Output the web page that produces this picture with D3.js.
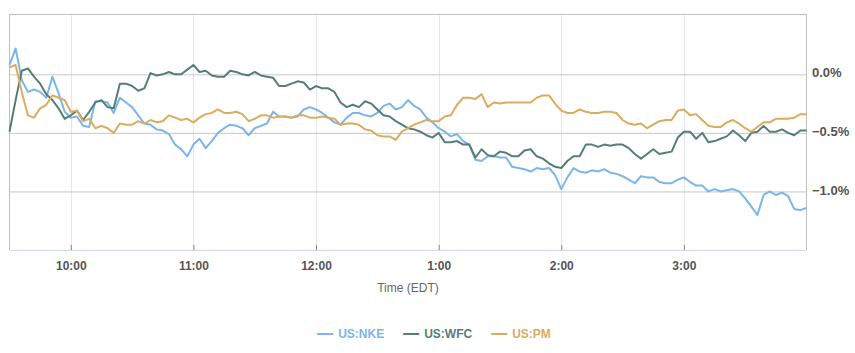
<!DOCTYPE html>
<html>
<head>
<meta charset="utf-8">
<script src="https://cdn.jsdelivr.net/npm/d3@7"></script>
<style>
  body { margin: 0; background: #fff; }
  svg { display: block; font-family: "Liberation Sans", Arial, sans-serif; }
</style>
</head>
<body>
<svg width="855" height="353"></svg>
<script>
// % change vs previous close, one reading every 3 minutes from 9:30 to 16:00
var nke = [
  0.08, 0.22, -0.05, -0.15, -0.13, -0.15, -0.2, -0.02, -0.16, -0.32,
  -0.37, -0.36, -0.44, -0.45, -0.23, -0.23, -0.24, -0.33, -0.2, -0.24,
  -0.28, -0.35, -0.42, -0.43, -0.47, -0.48, -0.51, -0.6, -0.64, -0.7,
  -0.6, -0.55, -0.63, -0.57, -0.5, -0.46, -0.43, -0.44, -0.46, -0.52,
  -0.46, -0.44, -0.42, -0.32, -0.36, -0.36, -0.37, -0.36, -0.3, -0.28,
  -0.3, -0.33, -0.37, -0.41, -0.43, -0.37, -0.33, -0.33, -0.35, -0.36,
  -0.33, -0.27, -0.25, -0.3, -0.28, -0.22, -0.27, -0.3, -0.37, -0.41,
  -0.46, -0.49, -0.53, -0.51, -0.57, -0.6, -0.73, -0.74, -0.7, -0.7,
  -0.71, -0.71, -0.79, -0.8, -0.81, -0.83, -0.8, -0.81, -0.8, -0.86,
  -0.98, -0.88, -0.8, -0.83, -0.84, -0.82, -0.83, -0.81, -0.84, -0.85,
  -0.87, -0.9, -0.93, -0.87, -0.88, -0.88, -0.92, -0.93, -0.93, -0.9,
  -0.88, -0.92, -0.95, -0.95, -1.0, -0.98, -1.0, -0.99, -0.98, -1.0,
  -1.06, -1.13, -1.2, -1.03, -1.0, -1.03, -1.01, -1.04, -1.15, -1.16,
  -1.14
];
var wfc = [
  -0.49, -0.22, 0.03, 0.05, -0.02, -0.08, -0.17, -0.22, -0.29, -0.38,
  -0.35, -0.31, -0.39, -0.32, -0.24, -0.22, -0.28, -0.29, -0.08, -0.08,
  -0.1, -0.14, -0.12, 0.01, -0.01, 0.0, 0.02, 0.0, 0.0, 0.04,
  0.08, 0.02, 0.03, -0.01, -0.02, -0.02, 0.03, 0.02, 0.0, -0.01,
  0.02, -0.01, -0.02, -0.03, -0.1, -0.1, -0.08, -0.06, -0.07, -0.13,
  -0.1, -0.12, -0.12, -0.15, -0.24, -0.28, -0.26, -0.28, -0.23, -0.25,
  -0.3, -0.35, -0.36, -0.4, -0.43, -0.46, -0.47, -0.49, -0.52, -0.54,
  -0.5, -0.58, -0.58, -0.57, -0.6, -0.6, -0.71, -0.64, -0.69, -0.7,
  -0.66, -0.67, -0.7, -0.7, -0.65, -0.64, -0.7, -0.72, -0.76, -0.79,
  -0.8, -0.74, -0.7, -0.7, -0.6, -0.6, -0.62, -0.6, -0.61, -0.6,
  -0.6, -0.63, -0.68, -0.72, -0.68, -0.64, -0.68, -0.67, -0.66, -0.54,
  -0.49, -0.49, -0.55, -0.5, -0.58, -0.57, -0.55, -0.53, -0.48, -0.52,
  -0.57, -0.5, -0.49, -0.44, -0.49, -0.49, -0.47, -0.5, -0.52, -0.48,
  -0.48
];
var pm = [
  0.06, 0.08, -0.15, -0.35, -0.37, -0.29, -0.26, -0.18, -0.2, -0.22,
  -0.32, -0.31, -0.4, -0.38, -0.46, -0.44, -0.46, -0.5, -0.42, -0.43,
  -0.43, -0.4, -0.42, -0.39, -0.41, -0.4, -0.35, -0.37, -0.39, -0.38,
  -0.41, -0.37, -0.34, -0.33, -0.3, -0.33, -0.33, -0.32, -0.34, -0.4,
  -0.38, -0.35, -0.35, -0.37, -0.36, -0.36, -0.37, -0.35, -0.35, -0.37,
  -0.37, -0.36, -0.37, -0.38, -0.43, -0.42, -0.42, -0.43, -0.47, -0.48,
  -0.52, -0.53, -0.53, -0.56, -0.49, -0.46, -0.43, -0.41, -0.39, -0.4,
  -0.4, -0.36, -0.35, -0.26, -0.2, -0.2, -0.21, -0.17, -0.28, -0.24,
  -0.25, -0.24, -0.24, -0.24, -0.24, -0.24, -0.2, -0.18, -0.18, -0.25,
  -0.31, -0.33, -0.33, -0.3, -0.32, -0.33, -0.33, -0.32, -0.32, -0.33,
  -0.39, -0.42, -0.43, -0.42, -0.46, -0.43, -0.4, -0.39, -0.39, -0.31,
  -0.3, -0.35, -0.34, -0.39, -0.44, -0.45, -0.45, -0.41, -0.39, -0.42,
  -0.46, -0.49, -0.45, -0.41, -0.41, -0.38, -0.38, -0.38, -0.37, -0.34,
  -0.34
];

var seriesNames = ["US:NKE", "US:WFC", "US:PM"];
var yTicks = [0, -0.5, -1];
var xLabel = "Time (EDT)";

var tOpen = new Date(2017, 5, 1, 9, 30),
  tClose = new Date(2017, 5, 1, 16, 0);
var times = d3.timeMinute.every(3).range(tOpen, d3.timeMinute.offset(tClose, 1));

var svg = d3.select("svg"),
  plotL = 9.5, plotR = 806.5, plotT = 14, plotB = 250;

var x = d3.scaleTime().domain([tOpen, tClose]).range([plotL, plotR]),
  y = d3.scaleLinear().domain([-1.5, 0.515]).range([plotB, plotT]),
  color = d3.scaleOrdinal().domain(seriesNames).range(["#7cb5ec", "#557e78", "#dcab5f"]);

var hours = d3.timeHour.range(new Date(2017, 5, 1, 10), tClose);

// vertical grid
svg.append("g")
  .selectAll("line")
  .data(hours)
  .enter().append("line")
  .attr("x1", d => Math.round(x(d)) + 0.5)
  .attr("x2", d => Math.round(x(d)) + 0.5)
  .attr("y1", plotT)
  .attr("y2", plotB)
  .style("stroke", "#e6e6e6");

// horizontal grid + right labels
var yg = svg.append("g")
  .attr("transform", `translate(${plotR},0)`)
  .call(d3.axisRight(y).tickValues(yTicks).tickSize(-(plotR - plotL)));
yg.select(".domain").remove();
yg.selectAll(".tick line").style("stroke", "#c6c6c6");
yg.selectAll(".tick text")
  .text(d => d3.format(".1f")(d) + "%")
  .attr("x", 5.5)
  .attr("dy", "0.2em")
  .style("font-size", "13px")
  .style("font-weight", "bold")
  .style("fill", "#555")
  .style("font-family", "'Liberation Sans', Arial, sans-serif");

// frame
svg.append("path")
  .attr("d", `M${plotL},${plotB}V${plotT + 0.5}H${plotR}V${plotB}`)
  .style("fill", "none")
  .style("stroke", "#c0c0c0");

var line = d3.line()
  .x((d, i) => x(times[i]))
  .y(d => y(d));

var data = [nke, wfc, pm];
svg.append("g")
  .selectAll("path")
  .data(data)
  .enter().append("path")
  .attr("d", line)
  .style("fill", "none")
  .style("stroke", (d, i) => color(seriesNames[i]))
  .style("stroke-width", 2)
  .style("stroke-linejoin", "round");

// x axis
var xg = svg.append("g")
  .attr("transform", `translate(0,${plotB})`)
  .call(d3.axisBottom(x).tickValues(hours).tickSize(-5).tickPadding(11).tickFormat(d3.timeFormat("%-I:%M")));
xg.select(".domain").attr("d", `M${plotL},0.5H${plotR}`).style("stroke", "#ccd6eb");
xg.selectAll(".tick line").style("stroke", "#888");
xg.selectAll(".tick text")
  .style("font-size", "12px")
  .style("font-weight", "bold")
  .style("fill", "#555")
  .style("font-family", "'Liberation Sans', Arial, sans-serif");

svg.append("text")
  .attr("x", (plotL + plotR) / 2)
  .attr("y", 292)
  .attr("text-anchor", "middle")
  .style("font-size", "12px")
  .style("fill", "#666")
  .text(xLabel);

// legend
var legend = svg.append("g");
var lx = 0;
seriesNames.forEach(function(name) {
  var item = legend.append("g").attr("transform", `translate(${lx},0)`);
  item.append("line")
    .attr("x1", 0).attr("x2", 16)
    .attr("y1", 334).attr("y2", 334)
    .style("stroke", color(name))
    .style("stroke-width", 2);
  var t = item.append("text")
    .attr("x", 21)
    .attr("y", 338)
    .style("font-size", "12px")
    .style("font-weight", "bold")
    .style("fill", color(name))
    .text(name);
  lx += 21 + t.node().getComputedTextLength() + 19;
});
var legendWidth = lx - 19;
legend.attr("transform", `translate(${434 - legendWidth / 2},0)`);
</script>
</body>
</html>
